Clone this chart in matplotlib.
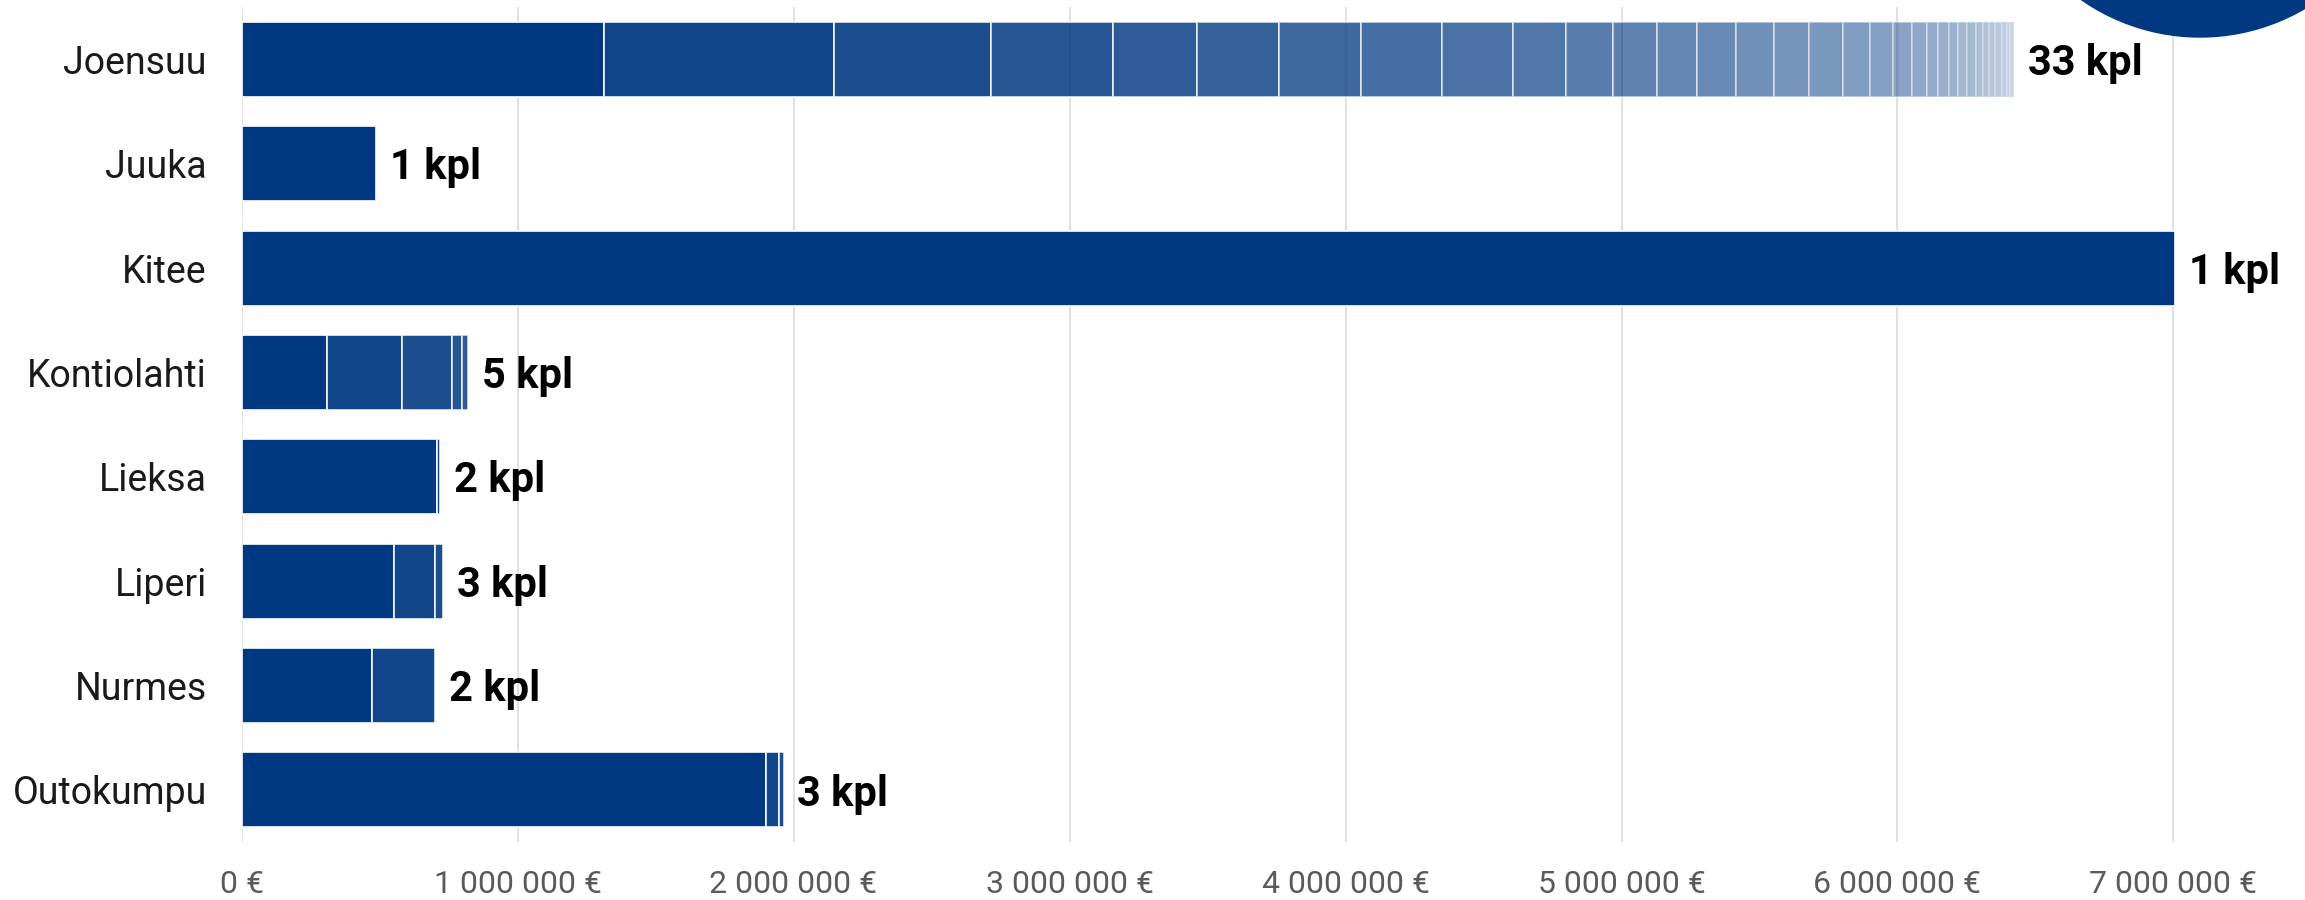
import matplotlib
matplotlib.use('Agg')
import matplotlib.pyplot as plt
import matplotlib.patches as mpatches
from matplotlib.ticker import FuncFormatter

plt.rcParams['font.family'] = ['Roboto', 'DejaVu Sans']

# kunnat ja hankkeiden summat (milj. euroa), suurin ensin
kunnat = ['Joensuu', 'Juuka', 'Kitee', 'Kontiolahti', 'Lieksa', 'Liperi', 'Nurmes', 'Outokumpu']

joensuu = [1.315, 0.833, 0.569, 0.442, 0.304, 0.297, 0.297, 0.293, 0.257, 0.192,
           0.170, 0.161, 0.145, 0.139, 0.137, 0.129, 0.121, 0.098, 0.085, 0.069,
           0.054, 0.041, 0.037, 0.034, 0.033, 0.033, 0.026, 0.022, 0.022, 0.022,
           0.018, 0.014, 0.014]
juuka = [0.488]
kitee = [7.005]
kontiolahti = [0.308, 0.272, 0.181, 0.036, 0.024]
lieksa = [0.709, 0.010]
liperi = [0.552, 0.150, 0.028]
nurmes = [0.472, 0.228]
outokumpu = [1.900, 0.047, 0.017]

summat = [joensuu, juuka, kitee, kontiolahti, lieksa, liperi, nurmes, outokumpu]
x_ticks = [0, 1e6, 2e6, 3e6, 4e6, 5e6, 6e6, 7e6]

blue = '#003882'

fig = plt.figure(figsize=(23.05, 9), dpi=100)
ax = fig.add_axes([0.1048, 0.0644, 0.8852, 0.9276])

for row, vals in enumerate(summat):
    left = 0
    for i, v in enumerate(vals):
        a = 1 - 0.78 * (i / 32) ** 0.7
        ax.barh(row, v * 1e6, left=left, height=0.72, color=blue, alpha=a,
                edgecolor='white', linewidth=1.2, zorder=2)
        left += v * 1e6
    ax.annotate(f'{len(vals)} kpl', xy=(left, row), xytext=(10, -3),
                textcoords='offset points', va='center', ha='left',
                fontsize=30, fontweight='bold', color='black')

ax.set_yticks(range(len(kunnat)))
ax.set_yticklabels(kunnat)
ax.set_ylim(7.5, -0.5)
ax.set_xlim(0, 7.393e6)
ax.set_xticks(x_ticks)
ax.xaxis.set_major_formatter(FuncFormatter(lambda x, p: f'{x:,.0f} €'.replace(',', ' ')))

ax.tick_params(axis='y', length=0, pad=25, labelsize=27, labelcolor='#1a1a1a')
ax.tick_params(axis='x', length=0, pad=20, labelsize=23, labelcolor='#5a5a5a')
ax.grid(axis='x', color='#dadada', linewidth=1.2, zorder=0)
ax.set_axisbelow(True)
for s in ax.spines.values():
    s.set_visible(False)

# sininen pallo oikeassa ylakulmassa
circ = mpatches.Circle((22.0, 10.7), 2.07, transform=fig.dpi_scale_trans,
                       color=blue, zorder=5)
fig.add_artist(circ)

fig.savefig('out.png', dpi=100, facecolor='white')
